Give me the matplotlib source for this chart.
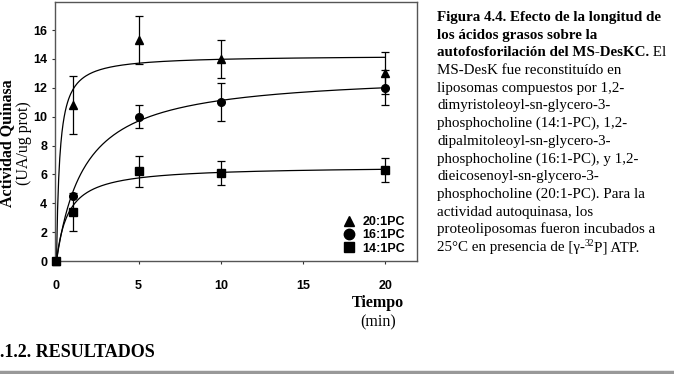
import numpy as np
import matplotlib
matplotlib.use("Agg")
import matplotlib.pyplot as plt
from matplotlib.lines import Line2D

SANS = "Liberation Sans"
SERIF = "Liberation Serif"

# Datos
tiempo = [0, 1, 5, 10, 20]
series = ["20:1PC", "16:1PC", "14:1PC"]
marcadores = ["^", "o", "s"]
act_20 = [0.0, 10.8, 15.3, 14.0, 13.0]
err_20 = [0.0, 2.0, 1.65, 1.3, 1.45]
act_16 = [0.0, 4.5, 10.0, 11.0, 12.0]
err_16 = [0.0, 0.0, 0.8, 1.3, 1.2]
act_14 = [0.0, 3.4, 6.2, 6.1, 6.3]
err_14 = [0.0, 1.3, 1.1, 0.85, 0.85]
# Parámetros del ajuste hiperbólico (Vmax, K) de cada curva
fit_vmax = [14.25, 13.03, 6.58]
fit_k = [0.2, 1.716, 0.72]

valores = [act_20, act_16, act_14]
errores = [err_20, err_16, err_14]

caption = [
    [("Figura 4.4. Efecto de la longitud de", "bold")],
    [("los ácidos grasos sobre la", "bold")],
    [("autofosforilación del MS-DesKC.", "bold"), (" El", "normal")],
    [("MS-DesK fue reconstituído en", "normal")],
    [("liposomas compuestos por 1,2-", "normal")],
    [("dimyristoleoyl-sn-glycero-3-", "normal")],
    [("phosphocholine (14:1-PC), 1,2-", "normal")],
    [("dipalmitoleoyl-sn-glycero-3-", "normal")],
    [("phosphocholine (16:1-PC), y 1,2-", "normal")],
    [("dieicosenoyl-sn-glycero-3-", "normal")],
    [("phosphocholine (20:1-PC). Para la", "normal")],
    [("actividad autoquinasa, los", "normal")],
    [("proteoliposomas fueron incubados a", "normal")],
    [("25°C en presencia de [γ-", "normal"), ("32", "sup"), ("P] ATP.", "normal")],
]

W, H = 674, 374
fig = plt.figure(figsize=(W / 100, H / 100), dpi=100)
ax = fig.add_axes([55 / W, 1 - 261 / H, (417 - 55) / W, (261 - 2) / H])

t_fit = np.linspace(0, 20, 300)
for vals, errs, mk, vmax, k in zip(valores, errores, marcadores, fit_vmax, fit_k):
    ax.plot(t_fit, vmax * t_fit / (k + t_fit), color="black", lw=0.9)
    ax.errorbar(tiempo, vals, yerr=errs, fmt=mk, color="black", ms=5.5,
                capsize=3.2, elinewidth=0.9, capthick=0.9, clip_on=False, zorder=3)

ax.set_xlim(-0.09, 21.94)
ax.set_ylim(0, 17.94)
ax.set_xticks([0, 5, 10, 15, 20])
ax.set_yticks(range(0, 17, 2))
for s in ax.spines.values():
    s.set_color("#555555")
    s.set_linewidth(1.0)
ax.tick_params(axis="both", direction="out", length=2.5, width=0.8, color="#333333")
ax.tick_params(axis="x", pad=11)
ax.tick_params(axis="y", pad=3.0)
for lab in ax.get_xticklabels() + ax.get_yticklabels():
    lab.set_fontfamily(SANS)
    lab.set_fontweight("bold")
    lab.set_fontsize(9)

handles = [Line2D([], [], marker=m, ls="none", color="black", ms=7.5) for m in marcadores]
leg = ax.legend(handles, series, loc="lower right", bbox_to_anchor=(0.985, 0.0),
                frameon=False, handlelength=1.0, handletextpad=0.6, labelspacing=0.1,
                borderpad=0, prop={"family": SANS, "weight": "bold", "size": 9})

# Etiquetas de ejes
fig.text(7 / W, 1 - 143 / H, "Actividad Quinasa", family=SERIF, weight="bold",
         fontsize=11.5, rotation=90, ha="center", va="center")
fig.text(24 / W, 1 - 143 / H, "(UA/ug prot)", family=SERIF, fontsize=11.5,
         rotation=90, ha="center", va="center")
fig.text(378 / W, 1 - 303 / H, "Tiempo", family=SERIF, weight="bold",
         fontsize=11.5, ha="center", va="center")
fig.text(378 / W, 1 - 322 / H, "(min)", family=SERIF, fontsize=11.5,
         ha="center", va="center")

# Leyenda de la figura (texto con partes en negrita y superíndice)
renderer = fig.canvas.get_renderer()
x0, y_base, paso = 437, 21, 17.7
for i, runs in enumerate(caption):
    x = x0
    y = y_base + i * paso
    for txt, estilo in runs:
        if estilo == "sup":
            t = fig.text(x / W, 1 - (y - 5) / H, txt, family=SERIF, fontsize=7,
                         ha="left", va="baseline")
        else:
            t = fig.text(x / W, 1 - y / H, txt, family=SERIF, fontsize=10.8,
                         weight=estilo, ha="left", va="baseline")
        x += t.get_window_extent(renderer).width

fig.text(0, 1 - 357 / H, ".1.2. RESULTADOS", family=SERIF, weight="bold",
         fontsize=13, ha="left", va="baseline")
fig.add_artist(Line2D([0, 1], [1 - 372 / H, 1 - 372 / H], transform=fig.transFigure,
                      color="#999999", lw=2.5))

fig.savefig("out.png", dpi=100)
